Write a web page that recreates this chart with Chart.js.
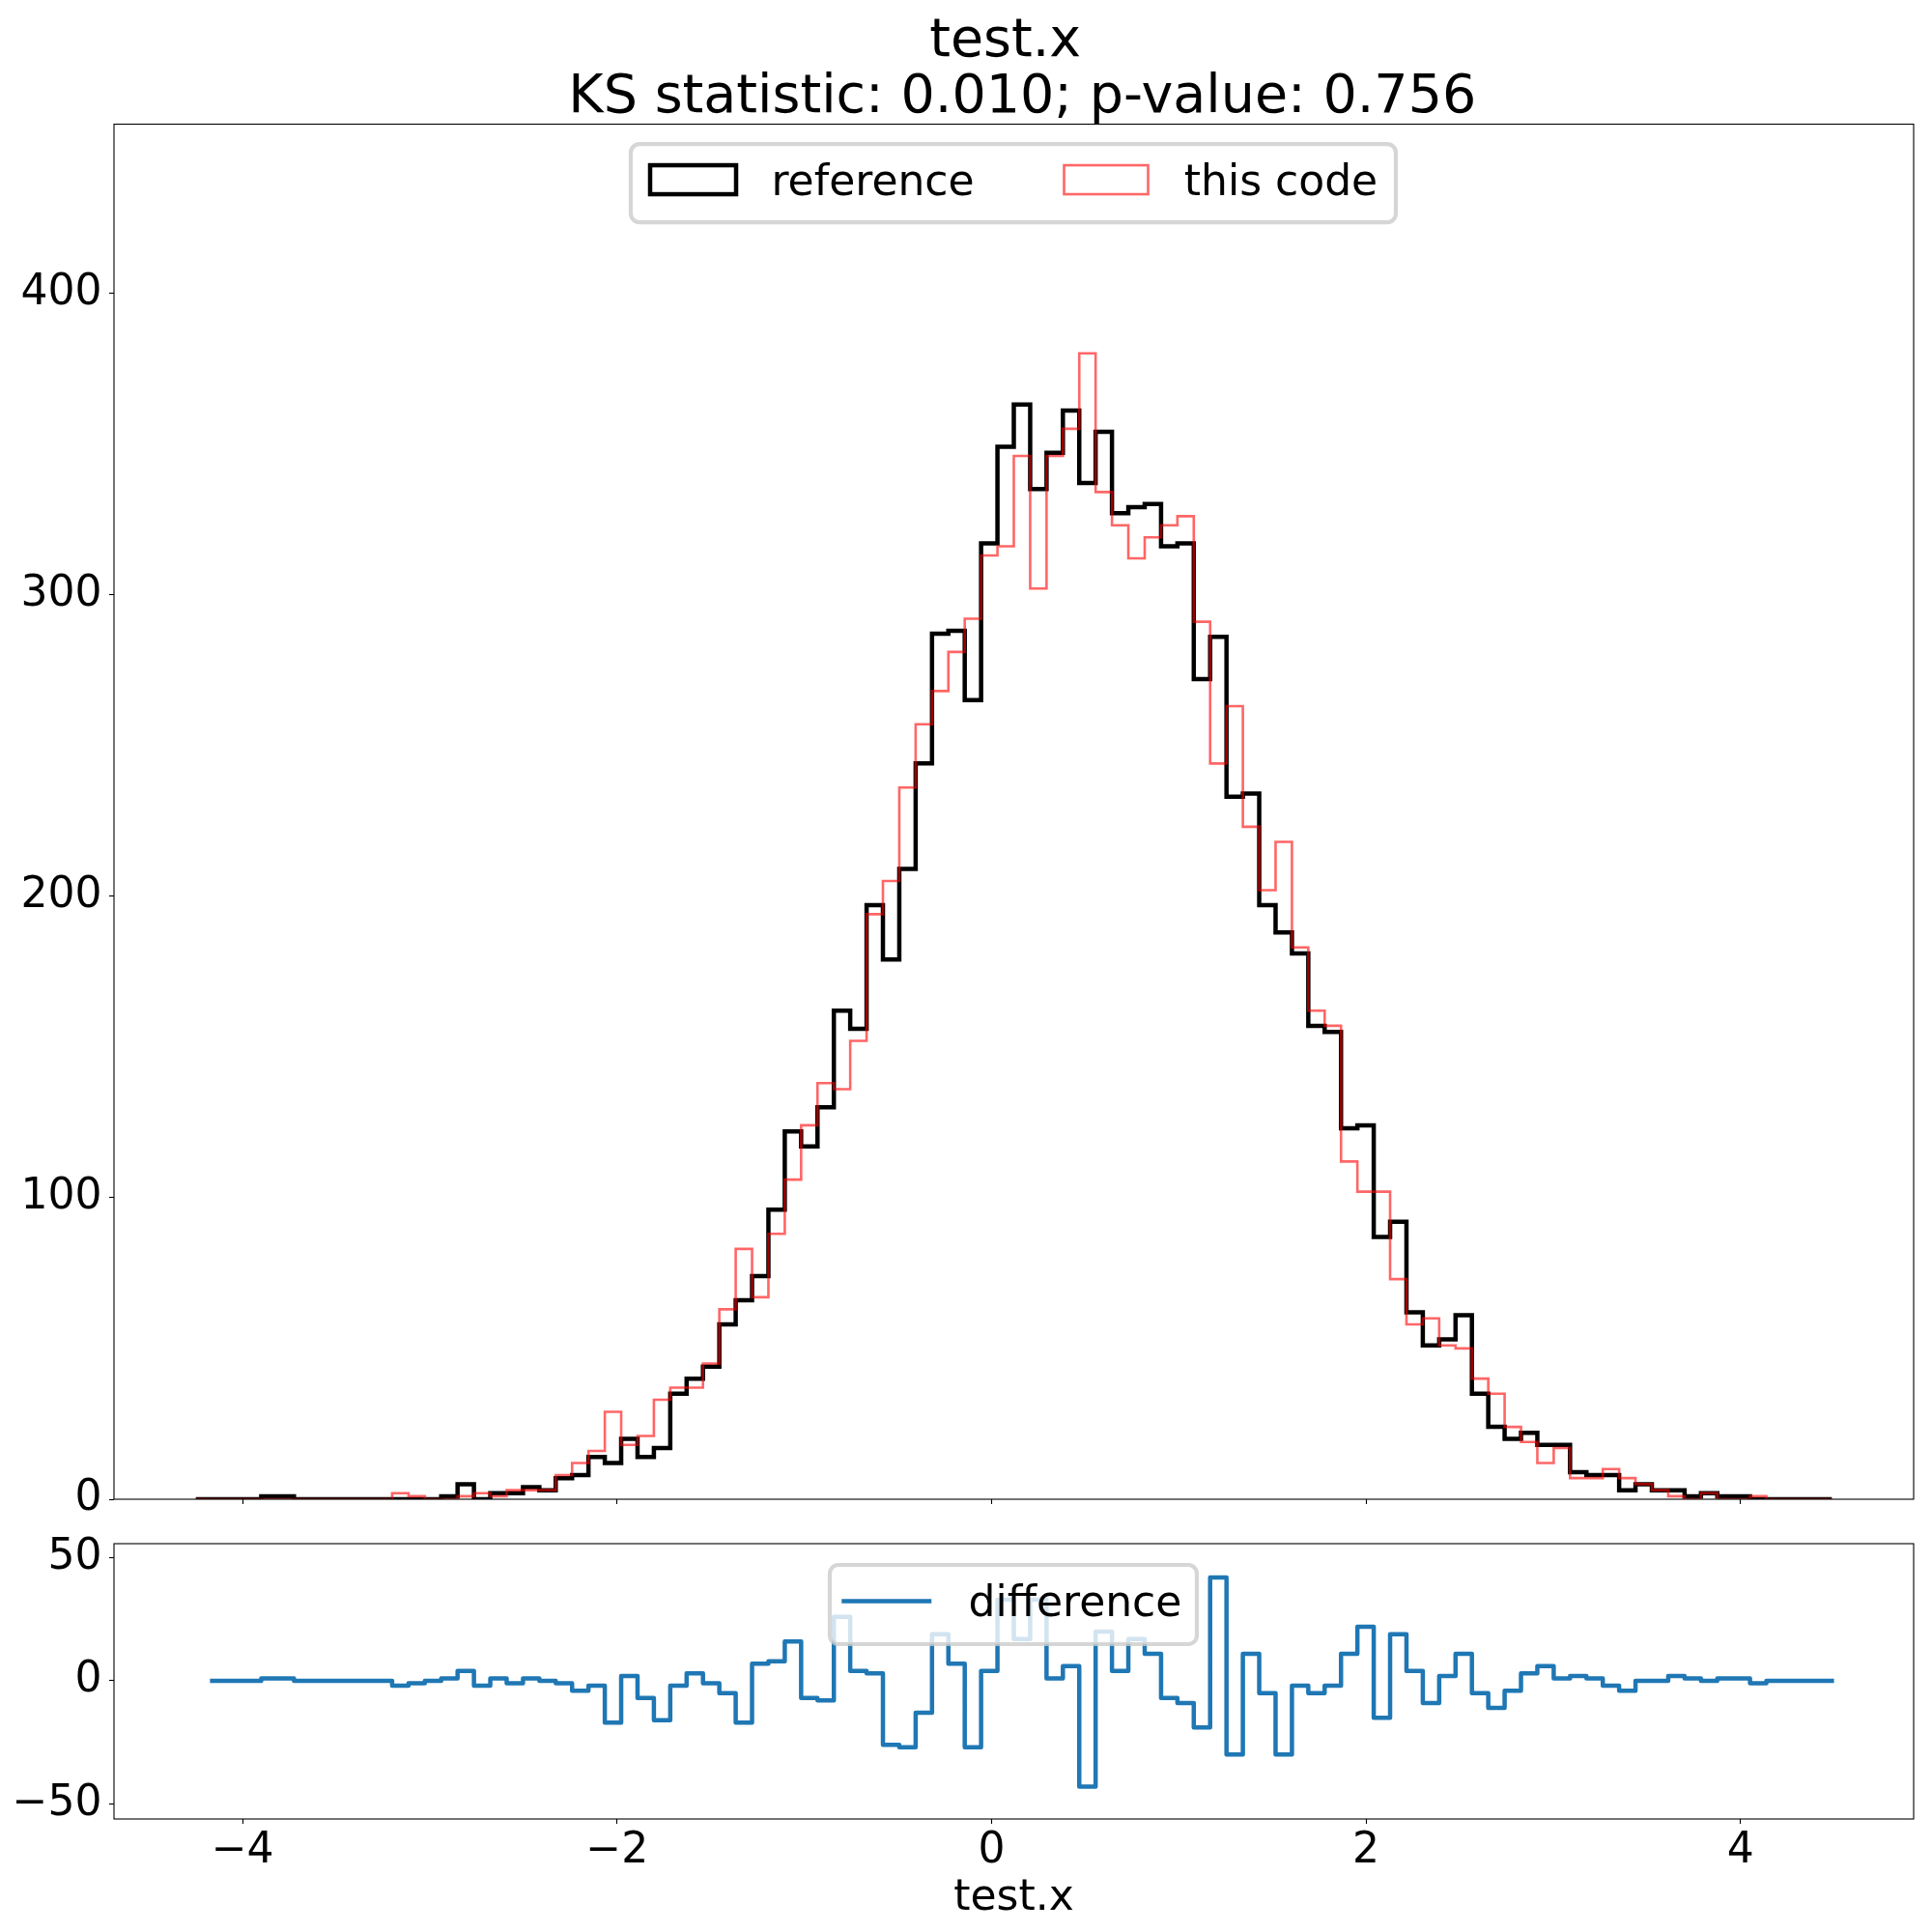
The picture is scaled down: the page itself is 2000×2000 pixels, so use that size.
<!DOCTYPE html>
<html>
<head>
<meta charset="utf-8">
<script src="https://cdn.jsdelivr.net/npm/chart.js@4.4.1/dist/chart.umd.min.js"></script>
<style>
  html, body { margin:0; padding:0; background:#fff; }
  #wrap { position:relative; width:2000px; height:2000px; }
  #mainChart { position:absolute; left:0; top:0; }
  #diffChart { position:absolute; left:0; top:1590px; }
</style>
</head>
<body>
<div id="wrap">
  <canvas id="mainChart" width="2000" height="1590" style="width:2000px;height:1590px"></canvas>
  <canvas id="diffChart" width="2000" height="410" style="width:2000px;height:410px"></canvas>
</div>
<script>
// histogram range and bins
const binLo = -4.25, binHi = 4.488, nBins = 100;

const refCounts = [
  0,0,0,0,1,1,0,0,0,0,
  0,0,0,0,0,1,5,0,2,2,
  4,3,7,8,14,12,20,14,17,35,
  40,44,58,66,74,96,122,117,130,162,
  156,197,179,209,244,287,288,265,317,349,
  363,335,347,361,337,354,327,329,330,316,
  317,272,286,233,234,197,188,181,157,155,
  123,124,87,92,62,51,53,61,35,24,
  20,22,18,18,9,8,8,3,5,3,
  3,1,2,1,1,0,0,0,0,0
];
const codeCounts = [
  0,0,0,0,0,0,0,0,0,0,
  0,0,2,1,0,0,1,2,1,3,
  3,3,8,12,16,29,18,21,33,37,
  37,45,63,83,67,88,106,124,138,136,
  152,194,205,236,257,268,281,292,313,316,
  346,302,346,355,380,334,323,312,319,323,
  326,291,244,263,223,202,218,183,162,157,
  112,102,102,73,58,60,51,50,40,35,
  24,19,12,17,7,7,10,7,5,3,
  1,0,2,0,0,1,0,0,0,0
];

const xTicks = [-4, -2, 0, 2, 4];
const mainYTicks = [0, 100, 200, 300, 400];
const diffYTicks = [-50, 0, 50];
const titleLines = ['test.x ', ' KS statistic: 0.010; p-value: 0.756'];
const xLabel = 'test.x';

const FONT = 'DejaVu Sans';
Chart.defaults.font.family = FONT;
Chart.defaults.color = '#000';

const edges = [];
for (let i = 0; i <= nBins; i++) edges.push(binLo + (binHi - binLo) * i / nBins);

// outline of a step histogram: up from 0, across each bin, back down to 0
function stepPoints(counts){
  const pts = [{x: edges[0], y: 0}];
  counts.forEach((c, i) => pts.push({x: edges[i], y: c}));
  pts.push({x: edges[nBins], y: 0});
  return pts;
}

const diffVals = refCounts.map((c, i) => c - codeCounts[i]);
const diffPts = [{x: edges[1], y: diffVals[0]}];
for (let i = 1; i < nBins; i++) diffPts.push({x: edges[i], y: diffVals[i]});
diffPts.push({x: edges[nBins], y: diffVals[nBins - 1]});

const minus = v => String(v).replace('-', '\u2212');
const xMin = -4.687, xMax = 4.925;

function roundRect(ctx, x, y, w, h, r){
  ctx.beginPath();
  ctx.moveTo(x + r, y);
  ctx.arcTo(x + w, y, x + w, y + h, r);
  ctx.arcTo(x + w, y + h, x, y + h, r);
  ctx.arcTo(x, y + h, x, y, r);
  ctx.arcTo(x, y, x + w, y, r);
  ctx.closePath();
}

// four spines + matplotlib-like legend box
const framePlugin = {
  id: 'frameLegend',
  afterDatasetsDraw(chart, args, opts){
    const {ctx, chartArea: a} = chart;
    ctx.save();
    ctx.strokeStyle = '#000';
    ctx.lineWidth = 1.1;
    ctx.strokeRect(a.left, a.top, a.right - a.left, a.bottom - a.top);

    const cx = (a.left + a.right) / 2;
    const b = opts.box;
    roundRect(ctx, cx + b.left, a.top + b.top, b.width, b.height, 9);
    ctx.fillStyle = 'rgba(255,255,255,0.8)';
    ctx.fill();
    ctx.strokeStyle = 'rgba(204,204,204,0.8)';
    ctx.lineWidth = 4.17;
    ctx.stroke();

    ctx.font = '44px "' + FONT + '"';
    ctx.textBaseline = 'alphabetic';
    ctx.textAlign = 'left';
    opts.items.forEach(it => {
      const ds = chart.data.datasets[it.ds];
      ctx.strokeStyle = ds.borderColor;
      ctx.lineWidth = ds.borderWidth;
      if (it.kind === 'rect') {
        ctx.lineJoin = 'miter';
        ctx.strokeRect(cx + it.x0, a.top + it.y0, it.x1 - it.x0, it.y1 - it.y0);
      } else {
        ctx.lineCap = 'square';
        ctx.beginPath();
        ctx.moveTo(cx + it.x0, a.top + it.y);
        ctx.lineTo(cx + it.x1, a.top + it.y);
        ctx.stroke();
      }
      ctx.fillStyle = '#000';
      ctx.fillText(ds.label, cx + it.tx, a.top + it.ty);
    });
    ctx.restore();
  }
};

const tickFont = {size: 44, family: FONT};
const gridOpts = {display: true, drawOnChartArea: false, drawTicks: true, tickLength: 5, tickWidth: 1.1, tickColor: '#000'};
const noPad = s => { s.paddingTop = 0; s.paddingBottom = 0; };

new Chart(document.getElementById('mainChart'), {
  type: 'line',
  data: {
    datasets: [
      {label: 'this code', data: stepPoints(codeCounts), borderColor: 'rgba(255,0,0,0.6)', borderWidth: 2.6,
       stepped: true, pointRadius: 0, fill: false, clip: 0, borderJoinStyle: 'miter'},
      {label: 'reference', data: stepPoints(refCounts), borderColor: '#000', borderWidth: 4.5,
       stepped: true, pointRadius: 0, fill: false, clip: 0, borderJoinStyle: 'miter'}
    ]
  },
  options: {
    responsive: false,
    animation: false,
    events: [],
    layout: {padding: {top: 0, right: 19, bottom: 0, left: 0}},
    scales: {
      x: {
        type: 'linear', min: xMin, max: xMax,
        grid: gridOpts, border: {display: false},
        ticks: {display: false},
        afterBuildTicks: s => { s.ticks = xTicks.map(v => ({value: v})); },
        afterFit: s => { s.height = 38; }
      },
      y: {
        type: 'linear', min: 0, max: 456,
        grid: gridOpts, border: {display: false},
        ticks: {font: tickFont, padding: 7.6, callback: minus},
        afterBuildTicks: s => { s.ticks = mainYTicks.map(v => ({value: v})); },
        afterFit: s => { s.width = 118; noPad(s); }
      }
    },
    plugins: {
      legend: {display: false},
      tooltip: {enabled: false},
      title: {display: true, text: titleLines, fullSize: false, color: '#000',
              font: {size: 55.5, family: FONT, weight: 'normal', lineHeight: 1.05},
              padding: {top: 14.5, bottom: -2.5}},
      frameLegend: {
        box: {left: -396.5, width: 792, top: 20.5, height: 81},
        items: [
          {ds: 1, kind: 'rect', x0: -376.5, x1: -287.5, y0: 42.5, y1: 72.5, tx: -251, ty: 73},
          {ds: 0, kind: 'rect', x0: 52, x1: 139, y0: 42.5, y1: 72.5, tx: 176.3, ty: 73}
        ]
      }
    }
  },
  plugins: [framePlugin]
});

new Chart(document.getElementById('diffChart'), {
  type: 'line',
  data: {
    datasets: [
      {label: 'difference', data: diffPts, borderColor: '#1f77b4', borderWidth: 4.5,
       stepped: true, pointRadius: 0, fill: false, clip: 0,
       borderCapStyle: 'square', borderJoinStyle: 'round'}
    ]
  },
  options: {
    responsive: false,
    animation: false,
    events: [],
    layout: {padding: {top: 8, right: 19, bottom: 0, left: 0}},
    scales: {
      x: {
        type: 'linear', min: xMin, max: xMax,
        grid: gridOpts, border: {display: false},
        ticks: {font: tickFont, padding: 2, maxRotation: 0, callback: minus},
        title: {display: true, text: xLabel, font: {size: 44, family: FONT}, padding: {top: 0, bottom: 8}},
        afterBuildTicks: s => { s.ticks = xTicks.map(v => ({value: v})); },
        afterFit: s => { s.height = 117; }
      },
      y: {
        type: 'linear', min: -56.2, max: 55.8,
        grid: gridOpts, border: {display: false},
        ticks: {font: tickFont, padding: 7.6, callback: minus},
        afterBuildTicks: s => { s.ticks = diffYTicks.map(v => ({value: v})); },
        afterFit: s => { s.width = 118; noPad(s); }
      }
    },
    plugins: {
      legend: {display: false},
      tooltip: {enabled: false},
      frameLegend: {
        box: {left: -190.5, width: 380, top: 22, height: 82},
        items: [
          {ds: 0, kind: 'line', x0: -176, x1: -87.5, y: 59.5, tx: -47, ty: 74.5}
        ]
      }
    }
  },
  plugins: [framePlugin]
});
</script>
</body>
</html>
